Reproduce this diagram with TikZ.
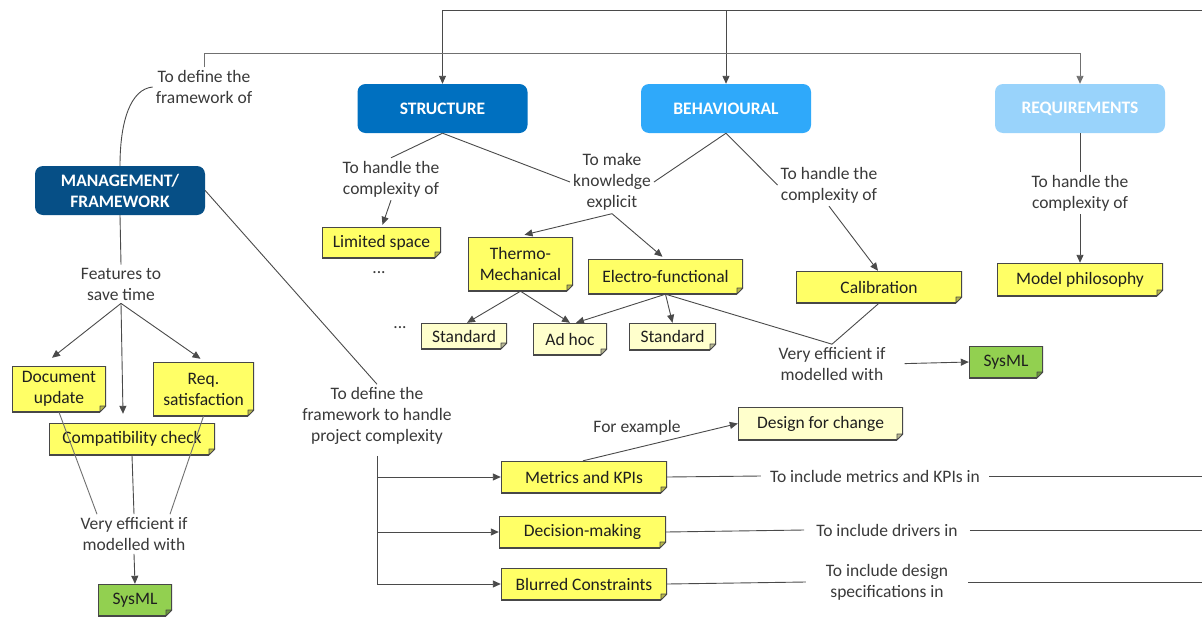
\documentclass[tikz,border=0pt]{standalone}
\usepackage{fontspec}
\setmainfont{Carlito}
\usetikzlibrary{arrows.meta}

\definecolor{strblue}{HTML}{0070C0}
\definecolor{behblue}{HTML}{2FA9FA}
\definecolor{reqblue}{HTML}{99D3FB}
\definecolor{mgmtblue}{HTML}{064F86}
\definecolor{noteyel}{HTML}{FFFF66}
\definecolor{notelight}{HTML}{FFFFCC}
\definecolor{notegreen}{HTML}{92D050}
\definecolor{noteline}{HTML}{474747}
\definecolor{linkgray}{HTML}{4A4A4A}
\definecolor{busgray}{HTML}{707070}
\definecolor{labelgray}{HTML}{3A3A3A}

\newcommand\fnb{path picture bounding box}
\newcommand\mapfont{\fontsize{17.5}{21}\selectfont}

\tikzset{
  topic/.style={rounded corners=8pt, fill=#1, text=white, font=\mapfont\bfseries,
    align=center, minimum width=170pt, minimum height=49pt, inner sep=0pt},
  foldnote/.style={fill=#1, text=black!88, align=center, inner sep=0pt,
    path picture={
      \fill[white] ([yshift=6pt]\fnb.south east) -- (\fnb.south east)
        -- ([xshift=-6pt]\fnb.south east) -- cycle;
      \draw[noteline, line width=1.6pt] ([yshift=6pt]\fnb.south east)
        -- (\fnb.north east) -- (\fnb.north west) -- (\fnb.south west)
        -- ([xshift=-6pt]\fnb.south east);
      \filldraw[fill=#1!72!black, draw=noteline, line width=0.8pt, line join=round]
        ([yshift=6pt]\fnb.south east) -- ([xshift=-6pt,yshift=6pt]\fnb.south east)
        -- ([xshift=-6pt]\fnb.south east) -- cycle;
    }},
  lbl/.style={align=center, text=labelgray, inner sep=3pt},
  link/.style={draw=linkgray, line width=0.9pt},
  arr/.style={link, -{Triangle[length=8pt,width=7pt]}},
}

\begin{document}
\begin{tikzpicture}[x=1pt, y=-1pt, font=\mapfont]
\fill[white] (0,0) rectangle (1202,616);
\useasboundingbox (0,0) rectangle (1202,616);

% main topics
\node[topic=strblue]  (str)  at (442.5,108.5) {STRUCTURE};
\node[topic=behblue]  (beh)  at (726,108.5)   {BEHAVIOURAL};
\node[topic=reqblue]  (req)  at (1080,108.5)  {REQUIREMENTS};
\node[topic=mgmtblue] (mgmt) at (120,190.5)   {MANAGEMENT/\\FRAMEWORK};

% notes
\node[foldnote=noteyel, minimum width=119pt, minimum height=31pt] (lim) at (381.5,242.5) {Limited space};
\node[foldnote=noteyel, minimum width=105pt, minimum height=54pt] (thermo) at (520.5,264) {Thermo-\\Mechanical};
\node[foldnote=noteyel, minimum width=155pt, minimum height=35pt] (elec) at (665.5,276.5) {Electro-functional};
\node[foldnote=notelight, minimum width=86pt, minimum height=26pt] (stdA) at (464,336) {Standard};
\node[foldnote=notelight, minimum width=74pt, minimum height=32pt] (adhoc) at (570,339) {Ad hoc};
\node[foldnote=notelight, minimum width=87pt, minimum height=27pt] (stdB) at (672.5,336.5) {Standard};
\node[foldnote=noteyel, minimum width=166pt, minimum height=32pt] (calib) at (879,287) {Calibration};
\node[foldnote=noteyel, minimum width=166pt, minimum height=33pt] (model) at (1080,279.5) {Model philosophy};
\node[foldnote=notegreen, minimum width=74pt, minimum height=32pt] (sysR) at (1006,362) {SysML};
\node[foldnote=noteyel, minimum width=94pt, minimum height=46pt] (docu) at (59,389) {Document\\update};
\node[foldnote=noteyel, minimum width=101pt, minimum height=54pt] (reqs) at (203.5,389) {Req.\\satisfaction};
\node[foldnote=noteyel, minimum width=166pt, minimum height=32pt] (compat) at (132,439) {Compatibility check};
\node[foldnote=notegreen, minimum width=74pt, minimum height=32pt] (sysL) at (135,600) {SysML};
\node[foldnote=noteyel, minimum width=166pt, minimum height=32pt] (metrics) at (584,477) {Metrics and KPIs};
\node[foldnote=noteyel, minimum width=167pt, minimum height=32pt] (decis) at (582.5,532) {Decision-making};
\node[foldnote=noteyel, minimum width=166pt, minimum height=32pt] (blur) at (584,584) {Blurred Constraints};
\node[foldnote=notelight, minimum width=165pt, minimum height=33pt] (design) at (820.5,423.5) {Design for change};

% linking phrases
\node[lbl] (defA) at (204,87) {To define the\\framework of};
\node[lbl] (feat) at (121,284) {Features to\\save time};
\node[lbl] (vefL) at (134,534) {Very efficient if\\modelled with};
\node[lbl] (hcS) at (391,179) {To handle the\\complexity of};
\node[lbl] (mke) at (612,182) {To make\\knowledge\\explicit};
\node[lbl] (hcB) at (829,185) {To handle the\\complexity of};
\node[lbl] (hcR) at (1080,193) {To handle the\\complexity of};
\node[lbl] (vefR) at (832,364) {Very efficient if\\modelled with};
\node[lbl] (defP) at (377,416) {To define the\\framework to handle\\project complexity};
\node[lbl] (forex) at (637,428) {For example};
\node[lbl, inner xsep=9pt] (incM) at (875,476) {To include metrics and KPIs in};
\node[lbl, inner xsep=12pt] (incD) at (887,530) {To include drivers in};
\node[lbl, inner xsep=20pt] (incS) at (887,582) {To include design\\specifications in};
\node[lbl] (dotsA) at (379,273) {...};
\node[lbl] (dotsB) at (400,328) {...};

% free ends
\coordinate (busTop) at (1202,10);
\coordinate (busMid) at (1080,53);
\coordinate (edgeR) at (1202,0);

% top buses
\draw[arr] (busTop) -| (str.north);
\draw[arr] (beh.north |- busTop) -- (beh.north);
\draw[arr, draw=busgray] (defA.north) |- (busMid) -- (req.north);
\draw[link] (mgmt.north) .. controls +(0,-45) and +(-22,2) .. (defA.west);

% management branch
\draw[link] (mgmt.south) -- (feat.north);
\draw[arr] (feat.south) -- ([xshift=-7pt,yshift=8pt]docu.north);
\draw[arr] (feat.south) -- ([xshift=-9pt,yshift=9pt]compat.north);
\draw[arr] (feat.south) -- ([xshift=-3pt,yshift=3pt]reqs.north);
\draw[link, draw=busgray] (docu.south) -- ([xshift=-37pt]vefL.north);
\draw[link] (compat.south) -- (vefL.north);
\draw[link, draw=busgray] (reqs.south) -- ([xshift=36pt]vefL.north);
\draw[arr] (vefL.south) -- (sysL.north);

\draw[link] (mgmt.east) -- (defP.north);
\coordinate (trunk) at ([yshift=-8pt]defP.south);
\draw[arr] (trunk) |- (blur.west);
\draw[arr] (trunk |- metrics.west) -- (metrics.west);
\draw[arr] (trunk |- decis.west) -- (decis.west);
\draw[arr] ([xshift=-1pt]metrics.north) -- (design.west);
\draw[link] (metrics.east) -- (incM.west);
\draw[link] (incM.east) -- (incM.east -| edgeR);
\draw[link] (decis.east) -- (incD.west);
\draw[link] (incD.east) -- (incD.east -| edgeR);
\draw[link] (blur.east) -- (incS.west);
\draw[link] (incS.east) -- (incS.east -| edgeR);

% structure branch
\draw[link] (str.south) -- (hcS.north);
\draw[arr] (hcS.south) -- ([xshift=1pt,yshift=2pt]lim.north);
\draw[link] (str.south) -- (mke.west);
\draw[link] (beh.south) -- (mke.east);
\draw[arr] (mke.south) -- ([xshift=4pt,yshift=2pt]thermo.north);
\draw[arr] (mke.south) -- ([xshift=-3pt,yshift=2pt]elec.north);
\draw[arr] (thermo.south) -- ([xshift=3pt]stdA.north);
\draw[arr] (thermo.south) -- (adhoc.north);
\draw[arr] (elec.south) -- ([xshift=6pt]adhoc.north);
\draw[arr] (elec.south) -- (stdB.north);
\draw[link] (elec.south) -- (vefR.north);

% behavioural branch
\draw[link] (beh.south) -- (hcB.west);
\draw[arr] (hcB.south) -- ([xshift=-1pt]calib.north);
\draw[link] (calib.south) -- (vefR.north);
\draw[arr, shorten <=16pt] (vefR.east) -- (sysR.west);

% requirements branch
\draw[link] (req.south) -- (hcR.north);
\draw[arr] (hcR.south) -- (model.north);
\end{tikzpicture}
\end{document}
